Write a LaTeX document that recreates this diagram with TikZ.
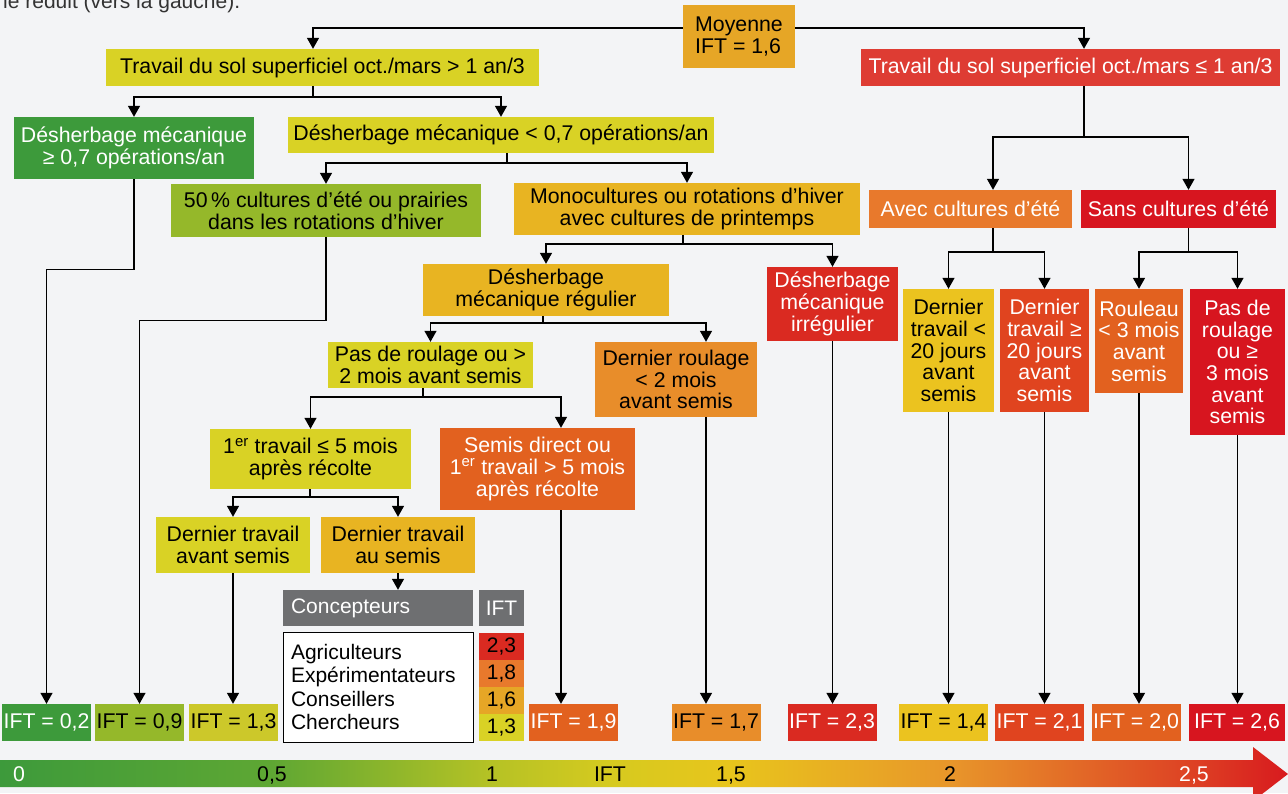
\documentclass[tikz,border=0pt]{standalone}
\usepackage{fontspec}
\setmainfont{Liberation Sans}
\usetikzlibrary{arrows.meta}

\definecolor{cBg}{HTML}{F3F4F6}
\definecolor{cText}{HTML}{333333}
\definecolor{cGreen}{HTML}{3D9A3B}
\definecolor{cLime}{HTML}{95B82A}
\definecolor{cYel}{HTML}{D9D225}
\definecolor{cYelB}{HTML}{CCC82A}
\definecolor{cMoy}{HTML}{E6A626}
\definecolor{cAmber}{HTML}{E8B422}
\definecolor{cGold}{HTML}{EBC31F}
\definecolor{cOrange}{HTML}{E88D2A}
\definecolor{cAvec}{HTML}{E8792C}
\definecolor{cOrRed}{HTML}{E2611F}
\definecolor{cRedOr}{HTML}{E0441F}
\definecolor{cRed}{HTML}{DA2A21}
\definecolor{cRedL}{HTML}{DE3C33}
\definecolor{cDeep}{HTML}{D7151F}
\definecolor{cGray}{HTML}{6E6F71}
% colours of the IFT scale
\definecolor{bA}{HTML}{3D9A3B}
\definecolor{bB}{HTML}{5EA733}
\definecolor{bC}{HTML}{B5C225}
\definecolor{bD}{HTML}{D6CA1F}
\definecolor{bE}{HTML}{E8C51C}
\definecolor{bF}{HTML}{E8962A}
\definecolor{bG}{HTML}{DD4024}
\definecolor{bH}{HTML}{D81A1E}
\pgfdeclarehorizontalshading{iftbar}{100bp}{color(0bp)=(bA); color(25bp)=(bA);
  color(35.5bp)=(bB); color(44bp)=(bC); color(48.7bp)=(bD); color(53.3bp)=(bE);
  color(61.9bp)=(bF); color(71.4bp)=(bG); color(75bp)=(bH); color(100bp)=(bH)}

\begin{document}
\begin{tikzpicture}[x=1pt, y=-1pt, inner sep=0pt,
      box/.style={align=center, text=black, font=\fontsize{21.3}{21.7}\selectfont},
      wbox/.style={box, text=white},
      ift/.style={minimum width=89pt, minimum height=37pt},
      leg/.style={font=\fontsize{21}{23.3}\selectfont},
      wire/.style={line width=1.4pt},
      arr/.style={wire, -{Triangle[width=12pt, length=11pt]}}]
      \fill[cBg] (0,0) rectangle (1288,793);
      \useasboundingbox (0,0) rectangle (1288,793);
      \node[leg, anchor=base west, text=cText] (intro) at(3,8) {le réduit (vers la gauche).};
      % top;
      \node[box, fill=cMoy, minimum width=112pt, minimum height=63pt, align=left] (moy) at(739,36.5) {Moyenne\\IFT = 1,6};
      \node[box, fill=cYel, minimum width=433pt, minimum height=37pt] (travA) at(322.5,67.5) {Travail du sol superficiel oct./mars > 1 an/3};
      \node[wbox, fill=cRedL, minimum width=419pt, minimum height=37pt] (travB) at(1070.5,67.5) {Travail du sol superficiel oct./mars ≤ 1 an/3};
      % left branch;
      \node[wbox, fill=cGreen, minimum width=240pt, minimum height=62pt] (deshGe) at(134,148) {Désherbage mécanique\\≥ 0,7 opérations/an};
      \node[box, fill=cYel, minimum width=426pt, minimum height=36pt] (deshLt) at(501,135) {Désherbage mécanique < 0,7 opérations/an};
      \node[box, fill=cLime, minimum width=310pt, minimum height=53pt] (cinq) at(326,210.5) {50\,\% cultures d’été ou prairies\\dans les rotations d’hiver};
      \node[box, fill=cAmber, minimum width=346pt, minimum height=52pt] (mono) at(687,209) {Monocultures ou rotations d’hiver\\avec cultures de printemps};
      \node[box, fill=cAmber, minimum width=246pt, minimum height=52pt] (regu) at(546,290) {Désherbage\\mécanique régulier};
      \node[wbox, fill=cRed, minimum width=131pt, minimum height=74pt] (irreg) at(832.5,304) {Désherbage\\mécanique\\irrégulier};
      \node[box, fill=cYel, minimum width=205pt, minimum height=46pt] (pasA) at(430.5,365) {Pas de roulage ou >\\2 mois avant semis};
      \node[box, fill=cOrange, minimum width=162pt, minimum height=75pt] (dernRoul) at(676,379.5) {Dernier roulage\\< 2 mois\\avant semis};
      \node[box, fill=cYel, minimum width=201pt, minimum height=60pt] (prem) at(310.5,459) {1\textsuperscript{er} travail ≤ 5 mois\\après récolte};
      \node[wbox, fill=cOrRed, minimum width=195pt, minimum height=82pt] (semis) at(537.5,469) {Semis direct ou\\1\textsuperscript{er} travail > 5 mois\\après récolte};
      \node[box, fill=cYel, minimum width=154pt, minimum height=56pt] (dtAv) at(233,545) {Dernier travail\\avant semis};
      \node[box, fill=cAmber, minimum width=154pt, minimum height=56pt] (dtAu) at(398,545) {Dernier travail\\au semis};
      % right branch;
      \node[wbox, fill=cAvec, minimum width=203pt, minimum height=38pt] (avec) at(970.5,209) {Avec cultures d’été};
      \node[wbox, fill=cDeep, minimum width=195pt, minimum height=38pt] (sans) at(1178.5,209) {Sans cultures d’été};
      \node[box, fill=cGold, minimum width=91pt, minimum height=123pt] (dernLt) at(948.5,350.5) {Dernier\\travail <\\20 jours\\avant\\semis};
      \node[wbox, fill=cRedOr, minimum width=89pt, minimum height=123pt] (dernGe) at(1044.5,350.5) {Dernier\\travail ≥\\20 jours\\avant\\semis};
      \node[wbox, fill=cOrRed, minimum width=88pt, minimum height=104pt] (roul) at(1139,341) {Rouleau\\< 3 mois\\avant\\semis};
      \node[wbox, fill=cDeep, minimum width=95pt, minimum height=146pt] (pasB) at(1237.5,362) {Pas de\\roulage\\ou ≥\\3 mois\\avant\\semis};
      % IFT results;
      \node[wbox, ift, fill=cGreen] (i02) at(46.5,722.5) {IFT = 0,2};
      \node[box, ift, fill=cLime] (i09) at(139.5,722.5) {IFT = 0,9};
      \node[box, ift, fill=cYelB] (i13) at(233.5,722.5) {IFT = 1,3};
      \node[wbox, ift, fill=cOrRed] (i19) at(573.5,722.5) {IFT = 1,9};
      \node[box, ift, fill=cOrange] (i17) at(716,722.5) {IFT = 1,7};
      \node[wbox, ift, fill=cRed] (i23) at(832,722.5) {IFT = 2,3};
      \node[box, ift, fill=cGold] (i14) at(943.5,722.5) {IFT = 1,4};
      \node[wbox, ift, fill=cRedOr] (i21) at(1039.5,722.5) {IFT = 2,1};
      \node[wbox, ift, fill=cOrRed] (i20) at(1136,722.5) {IFT = 2,0};
      \node[wbox, ift, fill=cDeep, minimum width=96pt] (i26) at(1237,722.5) {IFT = 2,6};
      % legend;
      \node[leg, fill=cGray, text=white, minimum height=36pt, text width=174pt, inner xsep=8pt, align=left] (headC) at(378,608) {Concepteurs};
      \node[leg, fill=cGray, text=white, minimum width=45pt, minimum height=36pt] (headI) at(501.5,608) {IFT};
      \node[leg, draw=black, fill=white, line width=0.8pt, minimum height=110pt, text width=174pt, inner xsep=8pt, align=left] (legBox) at(378,687) {Agriculteurs\\Expérimentateurs\\Conseillers\\Chercheurs};
      \node[leg, fill=cRed, minimum width=45pt, minimum height=27pt] (c23) at(501.5,646.5) {2,3};
      \node[leg, fill=cAvec, minimum width=45pt, minimum height=27pt] (c18) at(501.5,673.5) {1,8};
      \node[leg, fill=cMoy, minimum width=45pt, minimum height=27pt] (c16) at(501.5,700.5) {1,6};
      \node[leg, fill=cYel, minimum width=45pt, minimum height=27pt] (c13) at(501.5,727.5) {1,3};
      % Moyenne;
      \draw[arr] ([yshift=8.5pt]moy.west) -| ([xshift=-9.5pt]travA.north);
      \draw[arr] ([yshift=8.5pt]moy.east) -| ([xshift=13.5pt]travB.north);
      % splits, left;
      \coordinate (jA) at(313,97);
      \draw[wire] (travA.south -| jA) -- (jA);
      \draw[arr] (jA) -| (deshGe.north);
      \draw[arr] (jA) -| (deshLt.north);
      \coordinate (jB) at(507,163);
      \draw[wire] (deshLt.south -| jB) -- (jB);
      \draw[arr] (jB) -| (cinq.north);
      \draw[arr] (jB) -| (mono.north);
      \coordinate (jC) at(683,244);
      \draw[wire] (mono.south -| jC) -- (jC);
      \draw[arr] (jC) -| (regu.north);
      \draw[arr] (jC) -| (irreg.north);
      \coordinate (jD) at(543,323);
      \draw[wire] (regu.south -| jD) -- (jD);
      \draw[arr] (jD) -| (pasA.north);
      \draw[arr] (jD) -| ([xshift=30pt]dernRoul.north);
      \coordinate (jE) at(423,397);
      \draw[wire] (pasA.south -| jE) -- (jE);
      \draw[arr] (jE) -| (prem.north);
      \draw[arr] (jE) -| ([xshift=23.5pt]semis.north);
      \coordinate (jF) at(310,497);
      \draw[wire] (prem.south -| jF) -- (jF);
      \draw[arr] (jF) -| (dtAv.north);
      \draw[arr] (jF) -| (dtAu.north);
      % splits, right;
      \coordinate (jG) at(1084,137);
      \draw[wire] (travB.south -| jG) -- (jG);
      \draw[arr] (jG) -| ([xshift=22.5pt]avec.north);
      \draw[arr] (jG) -| ([xshift=10pt]sans.north);
      \coordinate (jH) at(993,252);
      \draw[wire] ([xshift=22.5pt]avec.south) -- (jH);
      \draw[arr] (jH) -| (dernLt.north);
      \draw[arr] (jH) -| (dernGe.north);
      \coordinate (jI) at(1188.5,252);
      \draw[wire] ([xshift=10pt]sans.south) -- (jI);
      \draw[arr] (jI) -| (roul.north);
      \draw[arr] (jI) -| (pasB.north);
      % down to the IFT values;
      \draw[arr] (deshGe.south) -- ++(0,90) -| (i02.north);
      \draw[arr] (cinq.south) -- ++(0,83) -| (i09.north);
      \draw[arr] (dtAv.south) -- (dtAv.south |- i13.north);
      \draw[arr] (dtAu.south) -- (dtAu.south |- headC.north);
      \coordinate (sD) at([xshift=23.5pt]semis.south);
      \draw[arr] (sD) -- (sD |- i19.north);
      \coordinate (rD) at([xshift=30pt]dernRoul.south);
      \draw[arr] (rD) -- (rD |- i17.north);
      \draw[arr] (irreg.south) -- (irreg.south |- i23.north);
      \draw[arr] (dernLt.south) -- (dernLt.south |- i14.north);
      \draw[arr] (dernGe.south) -- (dernGe.south |- i21.north);
      \draw[arr] (roul.south) -- (roul.south |- i20.north);
      \draw[arr] (pasB.south) -- (pasB.south |- i26.north);
      % scale;
      \shade[shading=iftbar] (0,760) -- (1253,760) -- (1253,747) -- (1288,774) -- (1253,801) -- (1253,787) -- (0,787) -- cycle;
      \node[box, anchor=base, text=white] (s0) at(19,781) {0};
      \node[box, anchor=base] (s05) at(272,781) {0,5};
      \node[box, anchor=base] (s1) at(492,781) {1};
      \node[box, anchor=base] (sIFT) at(610,781) {IFT};
      \node[box, anchor=base] (s15) at(731,781) {1,5};
      \node[box, anchor=base] (s2) at(950,781) {2};
      \node[box, anchor=base, text=white] (s25) at(1194,781) {2,5};
  \end{tikzpicture}
\end{document}
